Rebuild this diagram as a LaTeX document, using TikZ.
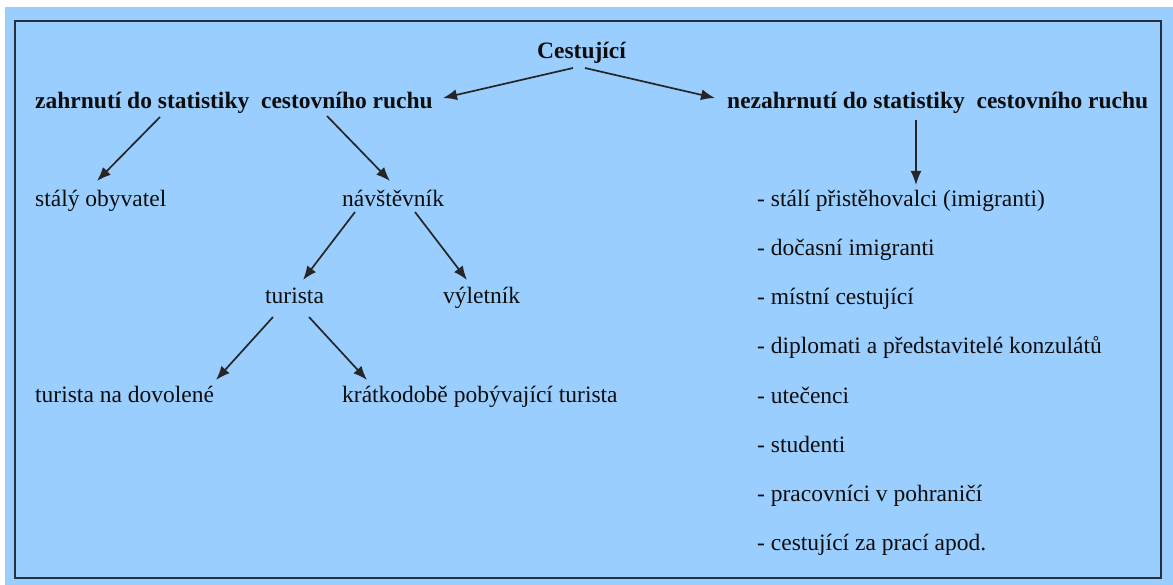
\documentclass[tikz,border=0pt]{standalone}
\usepackage{fontspec}
\setmainfont{Liberation Serif}
\usetikzlibrary{arrows.meta}
\definecolor{skyfill}{RGB}{153,206,255}
\definecolor{framecol}{RGB}{38,48,62}
\begin{document}
\begin{tikzpicture}[x=1pt,y=-1pt,
    lbl/.style={anchor=base west,inner sep=0pt,text=black!95,font=\fontsize{23.5}{28}\selectfont},
    head/.style={lbl,font=\fontsize{23.5}{28}\selectfont\bfseries},
    arr/.style={-{Latex[length=14pt,width=11pt]},line width=1.7pt,black!85}]
    \useasboundingbox (0,0) rectangle (1173,585);
    \fill[skyfill] (5,7) rectangle (1173,585);
    \draw[framecol,line width=2pt] (15,21) rectangle (1161,578);
    \node[head] (cest) at (537,59) {Cestující};
    \node[head] (zahr) at (35,109) {zahrnutí do statistiky\ \ cestovního ruchu};
    \node[head] (nezahr) at (727,109) {nezahrnutí do statistiky\ \ cestovního ruchu};
    \node[lbl] (stal) at (35,207) {stálý obyvatel};
    \node[lbl] (navs) at (342,207) {návštěvník};
    \node[lbl] (tur) at (265,304) {turista};
    \node[lbl] (vyl) at (443,304) {výletník};
    \node[lbl] (dov) at (35,402) {turista na dovolené};
    \node[lbl] (krat) at (342,402) {krátkodobě pobývající turista};
    \foreach \t [count=\i from 0] in {stálí přistěhovalci (imigranti),dočasní imigranti,místní cestující,diplomati a představitelé konzulátů,utečenci,studenti,pracovníci v pohraničí,cestující za prací apod.}{
      \node[lbl] (item\i) at (757,{207+49*\i}) {- \t};
    };
    \draw[arr] ([shift={(36,9)}]cest.base west) -- ([shift={(408,-11)}]zahr.base west);
    \draw[arr] ([shift={(48,9)}]cest.base west) -- ([shift={(-12,-11)}]nezahr.base west);
    \draw[arr] ([shift={(125,8)}]zahr.base west) -- ([shift={(62,-26)}]stal.base west);
    \draw[arr] ([shift={(292,7)}]zahr.base west) -- ([shift={(48,-26)}]navs.base west);
    \draw[arr] ([shift={(13,5)}]navs.base west) -- ([shift={(38,-24)}]tur.base west);
    \draw[arr] ([shift={(73,5)}]navs.base west) -- ([shift={(24,-24)}]vyl.base west);
    \draw[arr] ([shift={(8,13)}]tur.base west) -- ([shift={(181,-22)}]dov.base west);
    \draw[arr] ([shift={(44,13)}]tur.base west) -- ([shift={(25,-22)}]krat.base west);
    \draw[arr] ([shift={(189,11)}]nezahr.base west) -- ([shift={(159,-22)}]item0.base west);
\end{tikzpicture}
\end{document}
